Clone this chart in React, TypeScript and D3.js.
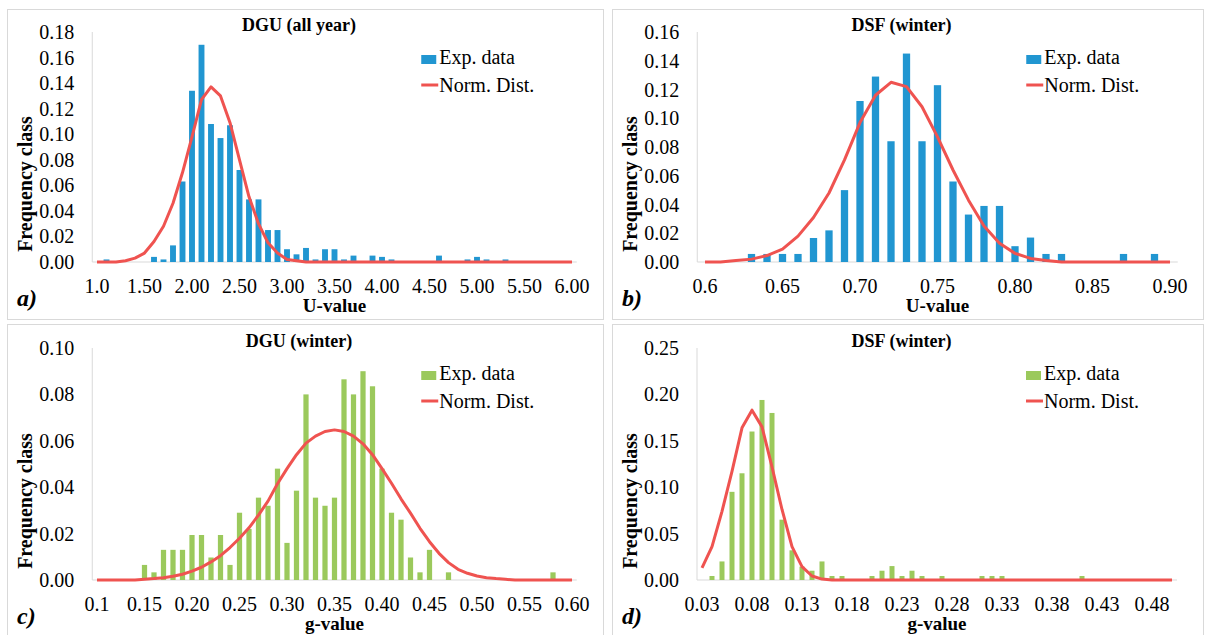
import React from 'react';
import * as d3 from 'd3';

const FONT = "'Liberation Serif', 'Times New Roman', 'DejaVu Serif', serif";
const BLUE = '#2196d1';
const GREEN = '#9bc95c';
const RED = '#ef5350';
const FRAME = '#d9d9d9';

// a) DGU (all year) - U-value classes 1.0 .. 6.0 by 0.1
const dguAllTicks = ['1.0', '1.50', '2.00', '2.50', '3.00', '3.50', '4.00', '4.50', '5.00', '5.50', '6.00'];
const dguAllBars: [number, number][] = [
    [1.1, 0.002], [1.6, 0.004], [1.7, 0.002], [1.8, 0.013], [1.9, 0.063], [2.0, 0.134], [2.1, 0.17],
    [2.2, 0.108], [2.3, 0.097], [2.4, 0.107], [2.5, 0.072], [2.6, 0.049], [2.7, 0.049], [2.8, 0.025],
    [2.9, 0.025], [3.0, 0.01], [3.1, 0.006], [3.2, 0.011], [3.3, 0.002], [3.4, 0.01], [3.5, 0.01],
    [3.6, 0.002], [3.7, 0.005], [3.9, 0.005], [4.0, 0.004], [4.1, 0.002], [4.6, 0.005], [4.9, 0.002],
    [5.0, 0.004], [5.1, 0.002], [5.3, 0.002],
];
const dguAllNorm = [
    0, 0, 0, 0.001, 0.003, 0.007, 0.016, 0.028, 0.046, 0.07, 0.098, 0.127, 0.137, 0.13, 0.109, 0.08,
    0.051, 0.03, 0.015, 0.007, 0.002, 0.001, 0, 0, 0, 0, 0, 0, 0, 0, 0, 0, 0, 0, 0, 0, 0, 0, 0, 0, 0,
    0, 0, 0, 0, 0, 0, 0, 0, 0, 0,
];

// b) DSF (winter) - U-value classes 0.60 .. 0.90 by 0.01
const dsfUTicks = ['0.6', '0.65', '0.70', '0.75', '0.80', '0.85', '0.90'];
const dsfUBars: [number, number][] = [
    [0.63, 0.0056], [0.64, 0.0056], [0.65, 0.0056], [0.66, 0.0056], [0.67, 0.0167], [0.68, 0.022],
    [0.69, 0.05], [0.7, 0.112], [0.71, 0.129], [0.72, 0.084], [0.73, 0.145], [0.74, 0.084], [0.75, 0.123],
    [0.76, 0.056], [0.77, 0.033], [0.78, 0.039], [0.79, 0.039], [0.8, 0.011], [0.81, 0.017],
    [0.82, 0.0056], [0.83, 0.0056], [0.87, 0.0056], [0.89, 0.0056],
];
const dsfUNorm = [
    0, 0, 0.001, 0.002, 0.0045, 0.009, 0.018, 0.031, 0.048, 0.071, 0.097, 0.116, 0.125, 0.122, 0.108,
    0.087, 0.064, 0.043, 0.025, 0.013, 0.006, 0.0025, 0.001, 0, 0, 0, 0, 0, 0, 0, 0,
];

// c) DGU (winter) - g-value classes 0.10 .. 0.60 by 0.01
const dguWinTicks = ['0.1', '0.15', '0.20', '0.25', '0.30', '0.35', '0.40', '0.45', '0.50', '0.55', '0.60'];
const dguWinBars: [number, number][] = [
    [0.15, 0.0065], [0.16, 0.0033], [0.17, 0.013], [0.18, 0.013], [0.19, 0.013], [0.2, 0.0194],
    [0.21, 0.0194], [0.22, 0.0097], [0.23, 0.0194], [0.24, 0.0065], [0.25, 0.029], [0.26, 0.022],
    [0.27, 0.0355], [0.28, 0.032], [0.29, 0.048], [0.3, 0.016], [0.31, 0.0385], [0.32, 0.08],
    [0.33, 0.0355], [0.34, 0.032], [0.35, 0.0355], [0.36, 0.0865], [0.37, 0.08], [0.38, 0.09],
    [0.39, 0.0835], [0.4, 0.048], [0.41, 0.029], [0.42, 0.026], [0.43, 0.0097], [0.44, 0.0033],
    [0.45, 0.013], [0.47, 0.0033], [0.58, 0.0033],
];
const dguWinNorm = [
    0, 0, 0, 0, 0, 0.0003, 0.0006, 0.001, 0.0016, 0.0025, 0.0038, 0.0055, 0.0078, 0.0105, 0.014, 0.018,
    0.0225, 0.028, 0.034, 0.0415, 0.048, 0.054, 0.059, 0.062, 0.064, 0.0647, 0.064, 0.062, 0.0587, 0.054,
    0.048, 0.0417, 0.035, 0.0288, 0.0223, 0.0165, 0.0115, 0.0075, 0.0046, 0.0029, 0.0017, 0.001, 0.0006,
    0.0003, 0, 0, 0, 0, 0, 0, 0,
];

// d) DSF (winter) - g-value classes 0.03 .. 0.50 by 0.01
const dsfGTicks = ['0.03', '0.08', '0.13', '0.18', '0.23', '0.28', '0.33', '0.38', '0.43', '0.48'];
const dsfGBars: [number, number][] = [
    [0.04, 0.0043], [0.05, 0.02], [0.06, 0.095], [0.07, 0.115], [0.08, 0.16], [0.09, 0.194], [0.1, 0.18],
    [0.11, 0.065], [0.12, 0.032], [0.13, 0.0144], [0.14, 0.01], [0.15, 0.02], [0.16, 0.0043],
    [0.17, 0.0043], [0.2, 0.0043], [0.21, 0.01], [0.22, 0.015], [0.23, 0.0043], [0.24, 0.01],
    [0.25, 0.0043], [0.27, 0.0043], [0.31, 0.0043], [0.32, 0.0043], [0.33, 0.0043], [0.41, 0.0043],
];
const dsfGNorm = [
    0.013, 0.036, 0.074, 0.117, 0.164, 0.183, 0.165, 0.122, 0.076, 0.036, 0.0144, 0.0043, 0.001, 0, 0, 0,
    0, 0, 0, 0, 0, 0, 0, 0, 0, 0, 0, 0, 0, 0, 0, 0, 0, 0, 0, 0, 0, 0, 0, 0, 0, 0, 0, 0, 0, 0, 0, 0,
];

type PanelProps = {
    box: { x: number; y: number; w: number; h: number };
    x0: number;
    x1: number;
    yTop: number;
    y0: number;
    start: number;
    step: number;
    ticks: string[];
    yMax: number;
    yStep: number;
    bars: [number, number][];
    norm: number[];
    color: string;
    barRatio: number;
    title: string;
    xTitle: string;
    tag: string;
};

function Panel(props: PanelProps) {
    const { box, x0, x1, yTop, y0, start, step, ticks, yMax, yStep, bars, norm, color, barRatio, title, xTitle, tag } = props;

    const x = d3.scaleBand<number>().domain(d3.range(norm.length)).range([x0, x1]);
    const bw = x.bandwidth();
    const cx = (i: number) => (x(i) as number) + bw / 2;
    const y = d3.scaleLinear().domain([0, yMax]).range([y0, yTop]);
    const idx = (v: number) => Math.round((v - start) / step);
    const yTicks = d3.range(0, yMax + 1e-9, yStep);
    const fmt = d3.format('.2f');

    const line = d3
        .line<number>()
        .x((d, i) => cx(i))
        .y((d) => y(d));

    const barW = bw * barRatio;
    const lx = x0 + 329;

    return (
        <g fontFamily={FONT} fill="#000">
            <rect x={box.x + 0.5} y={box.y + 0.5} width={box.w} height={box.h} fill="#fff" stroke={FRAME} />
            <text x={box.x + box.w / 2 - 6} y={yTop - 1} textAnchor="middle" fontWeight="bold" fontSize={18}>
                {title}
            </text>

            {/* y axis */}
            <line x1={x0} x2={x0} y1={yTop} y2={y0} stroke={FRAME} />
            {yTicks.map((t) => (
                <text key={t} x={x0 - 18} y={y(t) + 7} textAnchor="end" fontSize={20}>
                    {fmt(t)}
                </text>
            ))}
            <line x1={x0} x2={x1} y1={y0} y2={y0} stroke={FRAME} />

            {/* bars */}
            {bars.map(([v, f]) => (
                <rect key={v} x={cx(idx(v)) - barW / 2} y={y(f)} width={barW} height={y0 - y(f)} fill={color} />
            ))}

            {/* normal distribution */}
            <path d={line(norm) || ''} fill="none" stroke={RED} strokeWidth={3} strokeLinejoin="round" />

            {/* x tick labels every 5 classes */}
            {ticks.map((t, k) => (
                <text key={t} x={cx(k * 5)} y={y0 + 31} textAnchor="middle" fontSize={20}>
                    {t}
                </text>
            ))}
            <text x={(x0 + x1) / 2} y={y0 + 50} textAnchor="middle" fontWeight="bold" fontSize={19}>
                {xTitle}
            </text>
            <text
                transform={`translate(${x0 - 60},${(yTop + y0) / 2 + 37}) rotate(-90)`}
                textAnchor="middle"
                fontWeight="bold"
                fontSize={20}
            >
                Frequency class
            </text>
            <text x={box.x + 10} y={y0 + 44} fontWeight="bold" fontStyle="italic" fontSize={24}>
                {tag}
            </text>

            {/* legend */}
            <rect x={lx} y={yTop + 23} width={15} height={9} fill={color} />
            <text x={lx + 18} y={yTop + 32} fontSize={20}>
                Exp. data
            </text>
            <line x1={lx} x2={lx + 17} y1={yTop + 53} y2={yTop + 53} stroke={RED} strokeWidth={3} />
            <text x={lx + 18} y={yTop + 60} fontSize={20}>
                Norm. Dist.
            </text>
        </g>
    );
}

export default function App() {
    return (
        <svg width={1208} height={635} style={{ position: 'absolute', left: 0, top: 0, background: '#fff' }}>
            <Panel
                box={{ x: 7, y: 9, w: 596, h: 310 }}
                x0={92.25}
                x1={576.75}
                yTop={32}
                y0={262}
                start={1.0}
                step={0.1}
                ticks={dguAllTicks}
                yMax={0.18}
                yStep={0.02}
                bars={dguAllBars}
                norm={dguAllNorm}
                color={BLUE}
                barRatio={0.62}
                title="DGU (all year)"
                xTitle="U-value"
                tag="a)"
            />
            <Panel
                box={{ x: 612, y: 9, w: 591, h: 310 }}
                x0={697.25}
                x1={1177.75}
                yTop={32}
                y0={262}
                start={0.6}
                step={0.01}
                ticks={dsfUTicks}
                yMax={0.16}
                yStep={0.02}
                bars={dsfUBars}
                norm={dsfUNorm}
                color={BLUE}
                barRatio={0.47}
                title="DSF (winter)"
                xTitle="U-value"
                tag="b)"
            />
            <Panel
                box={{ x: 7, y: 324, w: 596, h: 320 }}
                x0={92.25}
                x1={576.75}
                yTop={348}
                y0={580}
                start={0.1}
                step={0.01}
                ticks={dguWinTicks}
                yMax={0.1}
                yStep={0.02}
                bars={dguWinBars}
                norm={dguWinNorm}
                color={GREEN}
                barRatio={0.55}
                title="DGU (winter)"
                xTitle="g-value"
                tag="c)"
            />
            <Panel
                box={{ x: 612, y: 324, w: 591, h: 320 }}
                x0={697}
                x1={1177}
                yTop={348}
                y0={580}
                start={0.03}
                step={0.01}
                ticks={dsfGTicks}
                yMax={0.25}
                yStep={0.05}
                bars={dsfGBars}
                norm={dsfGNorm}
                color={GREEN}
                barRatio={0.5}
                title="DSF (winter)"
                xTitle="g-value"
                tag="d)"
            />
        </svg>
    );
}
